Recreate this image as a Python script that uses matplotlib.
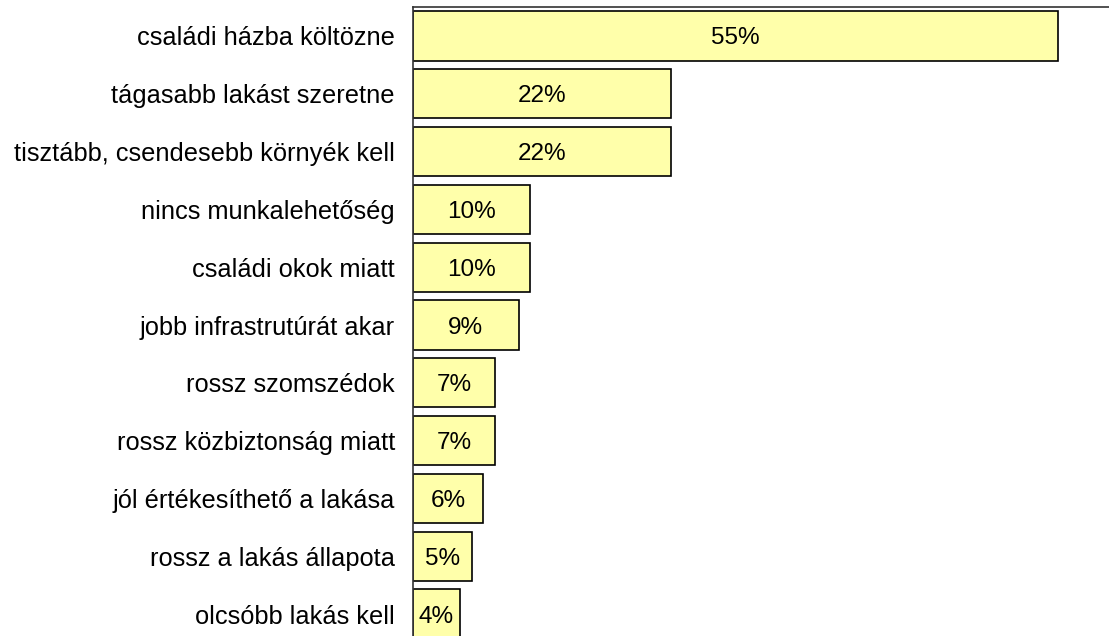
import matplotlib.pyplot as plt

plt.rcParams['font.family'] = ['Liberation Sans', 'DejaVu Sans']

BAR_COLOR = "#FFFFAA"
EDGE_COLOR = "black"

categories = [
    "családi házba költözne",
    "tágasabb lakást szeretne",
    "tisztább, csendesebb környék kell",
    "nincs munkalehetőség",
    "családi okok miatt",
    "jobb infrastrutúrát akar",
    "rossz szomszédok",
    "rossz közbiztonság miatt",
    "jól értékesíthető a lakása",
    "rossz a lakás állapota",
    "olcsóbb lakás kell",
]
values = [55, 22, 22, 10, 10, 9, 7, 7, 6, 5, 4]

fig = plt.figure(figsize=(11.09, 6.36), dpi=100)
# axes run slightly past the right and bottom edges, like the original
ax = fig.add_axes([413 / 1109, -7 / 636, 704 / 1109, 636 / 636])

ypos = list(range(len(categories)))
bars = ax.barh(ypos, values, height=0.853, color=BAR_COLOR,
               edgecolor=EDGE_COLOR, linewidth=1.2)

for b, v in zip(bars, values):
    ax.text(b.get_width() / 2, b.get_y() + b.get_height() / 2, f"{v}%",
            ha="center", va="center_baseline", fontsize=17.5)

ax.set_xlim(0, 60)
ax.set_ylim(len(categories) - 0.5, -0.5)
ax.set_yticks(ypos)
ax.set_yticklabels(categories, fontsize=18.3)
ax.tick_params(axis="y", length=0, pad=13)
ax.set_xticks([])

ax.spines["right"].set_visible(False)
ax.spines["bottom"].set_visible(False)
ax.spines["left"].set_color("#333333")
ax.spines["top"].set_color("#333333")
ax.spines["left"].set_linewidth(1.2)
ax.spines["top"].set_linewidth(1.2)

fig.savefig("out.png", dpi=100)
